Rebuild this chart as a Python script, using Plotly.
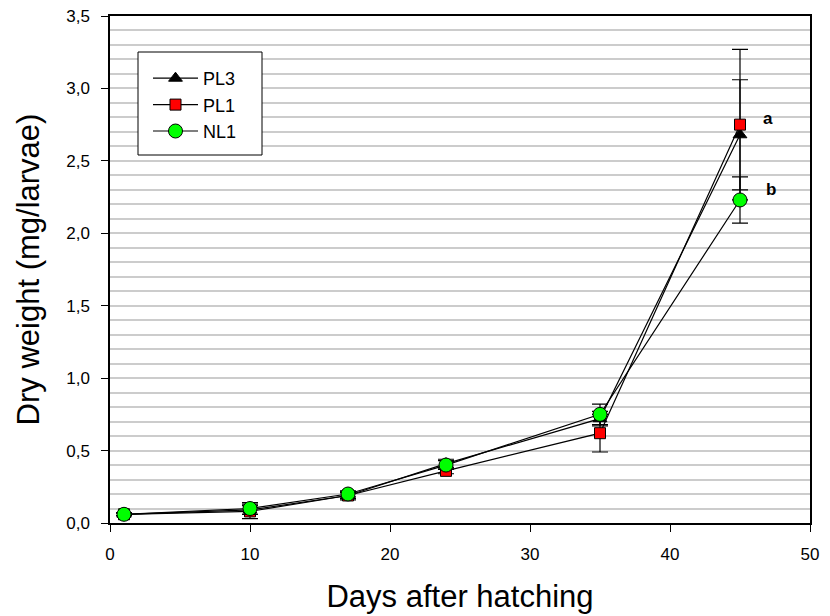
import plotly.graph_objects as go

days = [1, 10, 17, 24, 35, 45]
pl3 = [0.06, 0.09, 0.19, 0.41, 0.72, 2.68]
pl3_err = [0.01, 0.03, 0.02, 0.03, 0.05, 0.38]
pl1 = [0.06, 0.08, 0.19, 0.36, 0.62, 2.75]
pl1_err = [0.01, 0.05, 0.03, 0.02, 0.13, 0.52]
nl1 = [0.06, 0.10, 0.20, 0.40, 0.75, 2.23]
nl1_err = [0.01, 0.04, 0.02, 0.03, 0.07, 0.16]

series = [
    ("PL3", pl3, pl3_err, "triangle-up", "black", 12),
    ("PL1", pl1, pl1_err, "square", "red", 11),
    ("NL1", nl1, nl1_err, "circle", "#00ff00", 14),
]

fig = go.Figure()
for name, vals, errs, sym, col, sz in series:
    fig.add_trace(go.Scatter(
        x=days, y=vals, name=name, mode="lines+markers",
        line=dict(color="black", width=1.2),
        marker=dict(symbol=sym, color=col, size=sz, line=dict(color="black", width=1)),
        error_y=dict(type="data", array=errs, visible=True, color="black", thickness=1.2, width=8),
    ))

fig.add_annotation(x=47.0, y=2.79, text="<b>a</b>", showarrow=False, font=dict(size=17, color="black"))
fig.add_annotation(x=47.2, y=2.30, text="<b>b</b>", showarrow=False, font=dict(size=17, color="black"))

# legend frame
fig.add_shape(type="rect", xref="paper", yref="paper",
              x0=28/700, x1=152/700, y0=(523-155)/507, y1=(523-52)/507,
              line=dict(color="black", width=1), fillcolor="white", layer="above")

fig.update_layout(
    width=830, height=616,
    margin=dict(l=110, r=20, t=16, b=93),
    paper_bgcolor="white", plot_bgcolor="white",
    font=dict(family="Liberation Sans, Arial, sans-serif", size=17, color="black"),
    separators=", ",
    showlegend=True,
    legend=dict(x=38/700, y=(523-60)/507, xanchor="left", yanchor="top",
                borderwidth=0, bgcolor="rgba(0,0,0,0)",
                font=dict(size=18), itemwidth=45, tracegroupgap=0),
)
fig.update_xaxes(
    range=[0, 50], dtick=10, tick0=0, automargin=False,
    showline=True, linecolor="black", linewidth=1.5, mirror=True,
    ticks="outside", ticklen=7, tickcolor="black", tickfont=dict(size=17),
    ticklabelstandoff=8,
    showgrid=False, zeroline=False,
    title=dict(text="Days after hatching", font=dict(size=31), standoff=22),
)
fig.update_yaxes(
    range=[0, 3.5], dtick=0.5, tick0=0, tickformat=".1f", automargin=False,
    showline=True, linecolor="black", linewidth=1.5, mirror=True,
    ticks="outside", ticklen=7, tickcolor="black", tickfont=dict(size=17),
    ticklabelstandoff=8,
    showgrid=True, gridcolor="#cccccc", gridwidth=1.5,
    minor=dict(dtick=0.1, showgrid=True, gridcolor="#cccccc", gridwidth=1.5),
    zeroline=False,
    title=dict(text="Dry weight (mg/larvae)", font=dict(size=31), standoff=17),
)

fig.write_html("out.html")
